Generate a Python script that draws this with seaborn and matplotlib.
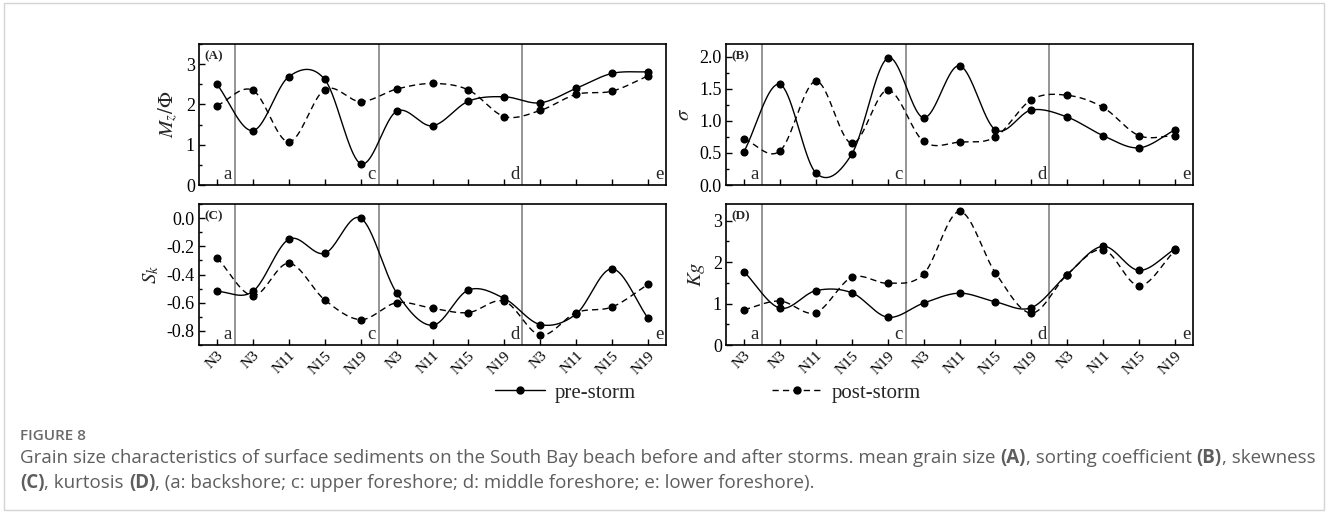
import numpy as np
import matplotlib
matplotlib.use("Agg")
import matplotlib.pyplot as plt
import seaborn as sns
from matplotlib.lines import Line2D
from matplotlib.patches import Rectangle
from matplotlib.ticker import MultipleLocator, FormatStrFormatter
import matplotlib.transforms as mtransforms

# ---------------- data ----------------
categories = ['N3', 'N3', 'N11', 'N15', 'N19', 'N3', 'N11', 'N15', 'N19',
              'N3', 'N11', 'N15', 'N19']
zone_labels = ['a', 'c', 'd', 'e']
zone_bounds = [0.5, 4.5, 8.5, 12.5]

mz_pre = [2.50, 1.35, 2.69, 2.62, 0.53, 1.83, 1.47, 2.08, 2.19, 2.04, 2.40, 2.77, 2.81]
mz_post = [1.97, 2.35, 1.07, 2.37, 2.07, 2.38, 2.52, 2.36, 1.70, 1.85, 2.25, 2.33, 2.71]
sigma_pre = [0.52, 1.57, 0.19, 0.48, 1.98, 1.05, 1.86, 0.86, 1.17, 1.06, 0.77, 0.58, 0.86]
sigma_post = [0.72, 0.53, 1.62, 0.65, 1.48, 0.68, 0.67, 0.75, 1.33, 1.40, 1.21, 0.77, 0.77]
sk_pre = [-0.52, -0.52, -0.15, -0.25, 0.00, -0.53, -0.76, -0.51, -0.57, -0.755, -0.68, -0.36, -0.71]
sk_post = [-0.28, -0.55, -0.32, -0.58, -0.72, -0.60, -0.64, -0.67, -0.59, -0.83, -0.67, -0.63, -0.47]
kg_pre = [1.77, 0.89, 1.31, 1.26, 0.67, 1.01, 1.25, 1.04, 0.90, 1.70, 2.38, 1.80, 2.32]
kg_post = [0.85, 1.06, 0.78, 1.63, 1.49, 1.71, 3.22, 1.74, 0.77, 1.70, 2.30, 1.43, 2.28]

series_names = ['pre-storm', 'post-storm']
panel_letters = ['(A)', '(B)', '(C)', '(D)']

caption_title = "FIGURE 8"
caption_line1 = [("Grain size characteristics of surface sediments on the South Bay beach before and after storms. mean grain size", "normal"),
                 (" ", None), ("(A)", "bold"), (", sorting coefficient", "normal"), (" ", None),
                 ("(B)", "bold"), (", skewness", "normal")]
caption_line2 = [("(C)", "bold"), (", kurtosis", "normal"), (" ", None), ("(D)", "bold"),
                 (", (a: backshore; c: upper foreshore; d: middle foreshore; e: lower foreshore).", "normal")]

# ---------------- style ----------------
sns.set_style("ticks")
plt.rcParams['font.family'] = ['Liberation Serif', 'DejaVu Serif']
plt.rcParams['mathtext.fontset'] = 'stix'
plt.rcParams['axes.unicode_minus'] = False


def smooth_curve(x, y, per=40):
    """Cardinal (Catmull-Rom) spline through the points, like a Bezier connection."""
    x = np.asarray(x, float)
    y = np.asarray(y, float)
    N = len(x)
    m = np.zeros(N)
    m[1:-1] = (y[2:] - y[:-2]) / (x[2:] - x[:-2])
    m[0] = (y[1] - y[0]) / (x[1] - x[0])
    m[-1] = (y[-1] - y[-2]) / (x[-1] - x[-2])
    xs_all, ys_all = [], []
    for i in range(N - 1):
        h = x[i + 1] - x[i]
        t = np.linspace(0, 1, per, endpoint=(i == N - 2))
        h00 = 2 * t ** 3 - 3 * t ** 2 + 1
        h10 = t ** 3 - 2 * t ** 2 + t
        h01 = -2 * t ** 3 + 3 * t ** 2
        h11 = t ** 3 - t ** 2
        xs_all.append(x[i] + t * h)
        ys_all.append(h00 * y[i] + h10 * h * m[i] + h01 * y[i + 1] + h11 * h * m[i + 1])
    return np.concatenate(xs_all), np.concatenate(ys_all)


W, H = 1328, 513
fig = plt.figure(figsize=(W / 100, H / 100), dpi=100)
fig.patch.set_facecolor('white')


def ax_at(l, t, r, b):
    return fig.add_axes([l / W, 1 - b / H, (r - l) / W, (b - t) / H])


axA = ax_at(199, 44, 666, 185)
axB = ax_at(726, 44, 1193, 185)
axC = ax_at(199, 204, 666, 345)
axD = ax_at(726, 204, 1193, 345)

panels = [
    (axA, mz_pre, mz_post, (0, 3.5), 1.0, 0.5, r'$M_z/\mathit{\Phi}$', '%d', False),
    (axB, sigma_pre, sigma_post, (0, 2.2), 0.5, 0.25, r'$\sigma$', '%.1f', False),
    (axC, sk_pre, sk_post, (-0.9, 0.1), 0.2, 0.1, r'$S_k$', '%.1f', True),
    (axD, kg_pre, kg_post, (0, 3.4), 1.0, 0.5, r'$Kg$', '%d', True),
]

pos = np.arange(len(categories))
dash = (0, (4.5, 3))

for k, (ax, pre, post, ylim, maj, mnr, ylab, fmt, showx) in enumerate(panels):
    for vals, ls in ((pre, '-'), (post, dash)):
        xs, ys = smooth_curve(pos, vals)
        sns.lineplot(x=xs, y=ys, ax=ax, color='black', lw=1.0, linestyle=ls,
                     sort=False, estimator=None, zorder=3)
        sns.scatterplot(x=pos, y=vals, ax=ax, color='black', s=34,
                        edgecolor='black', linewidth=0, zorder=4)
    for v in zone_bounds[:-1]:
        ax.axvline(v, color='#8c8c8c', lw=1.3, zorder=2)
    trans = mtransforms.blended_transform_factory(ax.transData, ax.transAxes)
    for v, lab in zip(zone_bounds, zone_labels):
        ax.text(v - 0.08, 0.015, lab, transform=trans, ha='right', va='bottom',
                fontsize=13.5, zorder=5)
    ax.text(0.012, 0.91, panel_letters[k], transform=ax.transAxes, ha='left',
            va='center', fontsize=9.5, fontweight='bold', zorder=5)
    ax.set_xlim(-0.5, 12.5)
    ax.set_ylim(*ylim)
    ax.set_xticks(pos)
    ax.yaxis.set_major_locator(MultipleLocator(maj))
    ax.yaxis.set_minor_locator(MultipleLocator(mnr))
    ax.yaxis.set_major_formatter(FormatStrFormatter(fmt))
    ax.tick_params(axis='both', which='both', direction='in', width=1.0,
                   colors='black', labelsize=13, pad=3)
    ax.tick_params(axis='both', which='major', length=4.5)
    ax.tick_params(axis='y', which='minor', length=2.5)
    ax.tick_params(axis='x', which='minor', bottom=False)
    if showx:
        ax.set_xticklabels(categories, rotation=45, ha='right',
                           rotation_mode='anchor', fontsize=11)
    else:
        ax.set_xticklabels([])
    ax.set_ylabel(ylab, fontsize=15, labelpad=4)
    ax.set_xlabel('')
    for s in ax.spines.values():
        s.set_linewidth(1.2)
        s.set_color('black')
    ax.set_facecolor('white')

# legend
handles = [Line2D([0], [0], color='black', lw=1.0, ls='-', marker='o', markersize=5),
           Line2D([0], [0], color='black', lw=1.0, ls=dash, marker='o', markersize=5)]
fig.legend(handles, series_names, loc='center', bbox_to_anchor=(708 / W, 1 - 393 / H),
           ncol=2, frameon=False, fontsize=15, handlelength=2.4, handletextpad=0.5,
           columnspacing=6.5)

# border
fig.add_artist(Rectangle((4 / W, 3 / H), (W - 8) / W, (H - 6) / H, transform=fig.transFigure,
                         fill=False, edgecolor='#d4d4d4', lw=1.0))

# caption
renderer = fig.canvas.get_renderer()
cap_kw = dict(family=['Open Sans', 'DejaVu Sans'], color='#5e5e5e', fontsize=13.5, va='baseline')
fig.text(20 / W, 1 - 440 / H, caption_title, family=['Open Sans', 'DejaVu Sans'],
         color='#6a6a6a', fontsize=11, fontweight='semibold', va='baseline')

t1 = fig.text(0, 0, "x x", **cap_kw)
t2 = fig.text(0, 0, "xx", **cap_kw)
space_w = t1.get_window_extent(renderer).width - t2.get_window_extent(renderer).width
t1.remove()
t2.remove()


def draw_runs(runs, x0_px, y_px):
    x = x0_px
    for s, w in runs:
        if w is None:
            x += space_w
            continue
        t = fig.text(x / W, 1 - y_px / H, s, fontweight=w, **cap_kw)
        bb = t.get_window_extent(renderer)
        x = bb.x1


draw_runs(caption_line1, 20, 463)
draw_runs(caption_line2, 20, 488)

fig.savefig('out.png', dpi=100, facecolor='white')
